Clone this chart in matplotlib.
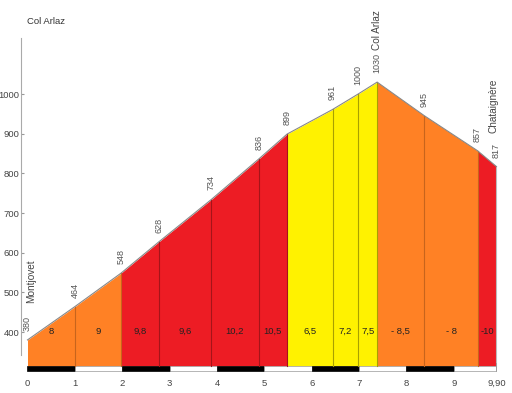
import matplotlib
matplotlib.use("Agg")
import matplotlib.pyplot as plt
from matplotlib.patches import Rectangle

plt.rcParams['font.family'] = ['Liberation Sans', 'DejaVu Sans']

# profile data
dist = [0, 1.0, 1.97, 2.78, 3.88, 4.88, 5.48, 6.44, 6.98, 7.38, 8.38, 9.5, 9.9]
elev = [380, 464, 548, 628, 734, 836, 899, 961, 1000, 1030, 945, 857, 817]
grade_vals = [8, 9, 9.8, 9.6, 10.2, 10.5, 6.5, 7.2, 7.5, -8.5, -8, -10]
grade_labels = ['8', '9', '9,8', '9,6', '10,2', '10,5', '6,5', '7,2', '7,5', '- 8,5', '- 8', '-10']
places = {0: 'Montjovet', 9: 'Col Arlaz', 12: 'Chataignère'}
x_ticks = [0, 1, 2, 3, 4, 5, 6, 7, 8, 9, 9.9]
x_tick_labels = ['0', '1', '2', '3', '4', '5', '6', '7', '8', '9', '9,90']
y_ticks = [400, 500, 600, 700, 800, 900, 1000]

base = 314.3
bar_bottom = 301.7

YELLOW, ORANGE, RED = '#FFF200', '#FF8125', '#ED1C24'
EDGE = {YELLOW: '#A8A000', ORANGE: '#C8641C', RED: '#A51419'}


def grade_color(g):
    g = abs(g)
    if g < 8:
        return YELLOW
    if g < 9.5:
        return ORANGE
    return RED


fig = plt.figure(figsize=(5.12, 3.93), dpi=100)
ax = fig.add_axes([21 / 512, 18 / 393, 479 / 512, 337 / 393])
ax.set_xlim(-0.137, 9.974)
ax.set_ylim(291.6, 1141.2)

for i in range(len(grade_vals)):
    c = grade_color(grade_vals[i])
    ax.fill_between(dist[i:i + 2], elev[i:i + 2], base, color=c, lw=0)
    ax.text((dist[i] + dist[i + 1]) / 2, 402, grade_labels[i], ha='center', va='center',
            fontsize=6.8, color='#222222')

# segment boundary lines
for i in range(1, len(dist) - 1):
    c = grade_color(grade_vals[i - 1])
    ax.plot([dist[i], dist[i]], [base, elev[i]], color=EDGE[c], lw=0.8)
ax.plot([dist[-1], dist[-1]], [base, elev[-1]], color='#BBBBBB', lw=0.8)

# profile outline
ax.plot(dist, elev, color='#888888', lw=0.8)

# elevation labels
for x, y in zip(dist, elev):
    ax.annotate(str(y), (x, y), xytext=(0, 6.5), textcoords='offset points',
                rotation=90, ha='center', va='bottom', fontsize=6.5, color='#555555')

place_offsets = {0: (2.5, 26.5), 9: (0, 23), 12: (-2, 24)}
for i, name in places.items():
    ax.annotate(name, (dist[i], elev[i]), xytext=place_offsets[i], textcoords='offset points',
                rotation=90, ha='center', va='bottom', fontsize=7.2, color='#444444')

# km scale bar
for k in range(10):
    x0 = k
    x1 = min(k + 1, dist[-1])
    black = k % 2 == 0
    ax.add_patch(Rectangle((x0, bar_bottom), x1 - x0, base - bar_bottom,
                           facecolor='black' if black else 'white',
                           edgecolor='black' if black else '#999999', lw=0.5, clip_on=False))
ax.plot([dist[-1], dist[-1]], [bar_bottom, base + 8], color='#999999', lw=0.6)

ax.set_xticks(x_ticks)
ax.set_xticklabels(x_tick_labels)
ax.set_yticks(y_ticks)
ax.tick_params(axis='x', length=0, pad=3, labelsize=6.8, labelcolor='#444444')
ax.tick_params(axis='y', length=2, direction='in', pad=1, labelsize=6.8,
               labelcolor='#444444', color='#999999')

for s in ['top', 'right', 'bottom']:
    ax.spines[s].set_visible(False)
ax.spines['left'].set_color('#AAAAAA')
ax.spines['left'].set_bounds(342, 1141.2)

fig.text(27 / 512, 1 - 22 / 393, 'Col Arlaz', fontsize=6.8, color='#333333', va='center', ha='left')

fig.savefig('out.png', dpi=100)
